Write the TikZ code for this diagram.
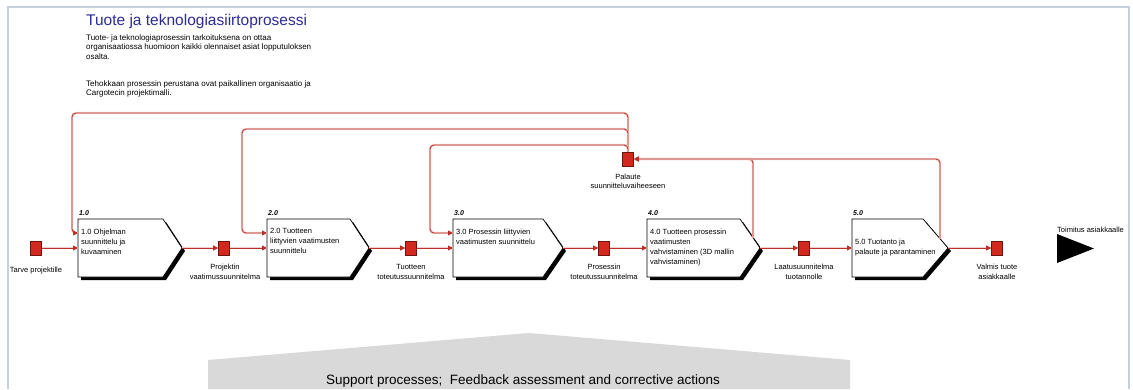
\documentclass[tikz,border=0pt]{standalone}
\usepackage{fontspec}
\setmainfont{Liberation Sans}
\usetikzlibrary{arrows.meta}

\definecolor{flowred}{RGB}{186,48,40}
\definecolor{halo}{RGB}{244,208,204}
\definecolor{sqfill}{RGB}{210,40,30}
\definecolor{sqedge}{RGB}{110,20,14}
\definecolor{framec}{RGB}{196,208,220}
\definecolor{titleblue}{RGB}{44,44,150}
\definecolor{supgray}{RGB}{217,217,217}

% process step: shadowed arrow-shaped box with number and text
% #1 name, #2 left x, #3 end of flat top, #4 tip x, #5 number, #6 text top, #7 text
\newcommand{\ProcBox}[7]{%
  \fill[black] (#2+3,222) -- (#3+3,222) -- (#4+3,251) -- (#3+3,280) -- (#2+3,280) -- cycle;
  \draw[fill=white, line width=0.7pt] (#2,219) -- (#3,219) -- (#4,248) -- (#3,277) -- (#2,277) -- cycle;
  \coordinate (#1-in) at (#2,248);
  \coordinate (#1-out) at (#4,248);
  \coordinate (#1-back) at (#2,233);
  \node[numlbl] (#1-num) at (#2+1,216) {#5};
  \node[boxtxt] (#1-txt) at (#2+3,#6) {#7};
}

\begin{document}
\begin{tikzpicture}[x=1pt,y=-1pt,
  flow/.style={draw=flowred, line width=0.85pt, rounded corners=4pt,
    -{Triangle[length=5pt,width=5pt]},
    preaction={draw=halo, line width=2.2pt, -}},
  port/.style={draw=sqedge, fill=sqfill, line width=0.6pt,
    minimum width=11pt, minimum height=14pt, inner sep=0pt},
  portlbl/.style={font=\fontsize{7.5}{9.5}\selectfont, align=center, inner sep=0pt},
  boxtxt/.style={font=\fontsize{7.5}{10}\selectfont, align=left, inner sep=0pt, anchor=north west},
  numlbl/.style={font=\fontsize{7}{8}\selectfont\bfseries\itshape, inner sep=0pt, anchor=south west},
  bodytxt/.style={font=\fontsize{8}{9.5}\selectfont, align=left, inner sep=0pt, anchor=north west},
]
\useasboundingbox (0,0) rectangle (1133,389);
\fill[white] (0,0) rectangle (1133,389);

% page frame
\draw[framec, line width=2pt] (8,389) -- (8,7) -- (1129,7) -- (1129,389);

% support processes band
\fill[supgray] (208,389) -- (208,360) -- (529,333) -- (850,360) -- (850,389) -- cycle;
\node[font=\fontsize{13.5}{15}\selectfont, inner sep=0pt] (support) at (523,381)
  {Support processes;\ \ Feedback assessment and corrective actions};

% heading and description
\node[anchor=base west, font=\fontsize{15.5}{18}\selectfont, text=titleblue, inner sep=0pt]
  (title) at (86,25.5) {Tuote ja teknologiasiirtoprosessi};
\node[bodytxt] (intro) at (86,34.5) {Tuote- ja teknologiaprosessin tarkoituksena on ottaa\\
  organisaatiossa huomioon kaikki olennaiset asiat lopputuloksen\\osalta.};
\node[bodytxt] (basis) at (86,80) {Tehokkaan prosessin perustana ovat paikallinen organisaatio ja\\
  Cargotecin projektimalli.};

% process steps
\ProcBox{b1}{78}{163}{182}{1.0}{228.5}{1.0 Ohjelman\\suunnittelu ja\\kuvaaminen}
\ProcBox{b2}{267}{350}{369}{2.0}{228.5}{2.0 Tuotteen\\liittyvien vaatimusten\\suunnittelu}
\ProcBox{b3}{453}{543}{563}{3.0}{228.5}{3.0 Prosessin liittyvien\\vaatimusten suunnittelu}
\ProcBox{b4}{647}{740}{760}{4.0}{228.5}{4.0 Tuotteen prosessin\\vaatimusten\\vahvistaminen (3D mallin\\vahvistaminen)}
\ProcBox{b5}{852}{923}{948}{5.0}{238.5}{5.0 Tuotanto ja\\palaute ja parantaminen}

% exit marker
\fill[black] (1057,234) -- (1094,248.5) -- (1057,263) -- cycle;
\coordinate (exit) at (1057,248.5);
\node[portlbl, anchor=west] (exit-l) at (1057,230) {Toimitus asiakkaalle};

% feedback start points on the step outlines
\coordinate (b4-fb) at (753,238);
\coordinate (b5-fb) at (940,239);

% data ports
\node[port] (p0) at (36,248) {};
\node[port] (p1) at (224,248) {};
\node[port] (p2) at (411,248) {};
\node[port] (p3) at (604,248) {};
\node[port] (p4) at (804,248) {};
\node[port] (p5) at (997,248) {};
\node[port] (pal) at (628,159) {};

% main flow
\draw[flow] (p0.east) -- (b1-in);
\draw[flow] (b1-out) -- (p1.west);
\draw[flow] (p1.east) -- (b2-in);
\draw[flow] (b2-out) -- (p2.west);
\draw[flow] (p2.east) -- (b3-in);
\draw[flow] (b3-out) -- (p3.west);
\draw[flow] (p3.east) -- (b4-in);
\draw[flow] (b4-out) -- (p4.west);
\draw[flow] (p4.east) -- (b5-in);
\draw[flow] (b5-out) -- (p5.west);

% feedback loops
\draw[flow] (b4-fb) |- (pal.east);
\draw[flow] (b5-fb) |- (pal.east);
\draw[flow] (pal.north) |- (72,113) |- (b1-back);
\draw[flow] (pal.north) |- (242,129) |- (b2-back);
\draw[flow] (pal.north) |- (430,145) |- (b3-back);

% ports redrawn above the lines
\foreach \p in {p0,p1,p2,p3,p4,p5,pal}
  \node[port] at (\p) {};

% port labels
\node[portlbl] (p0-l) at (36,271) {Tarve projektille};
\node[portlbl] (p1-l) at (225,272) {Projektin\\vaatimussuunnitelma};
\node[portlbl] (p2-l) at (411,272) {Tuotteen\\toteutussuunnitelma};
\node[portlbl] (p3-l) at (604,272) {Prosessin\\toteutussuunnitelma};
\node[portlbl] (p4-l) at (804,272) {Laatusuunnitelma\\tuotannolle};
\node[portlbl] (p5-l) at (997,272) {Valmis tuote\\asiakkaalle};
\node[portlbl] (pal-l) at (628,181.5) {Palaute\\suunnitteluvaiheeseen};
\end{tikzpicture}
\end{document}
